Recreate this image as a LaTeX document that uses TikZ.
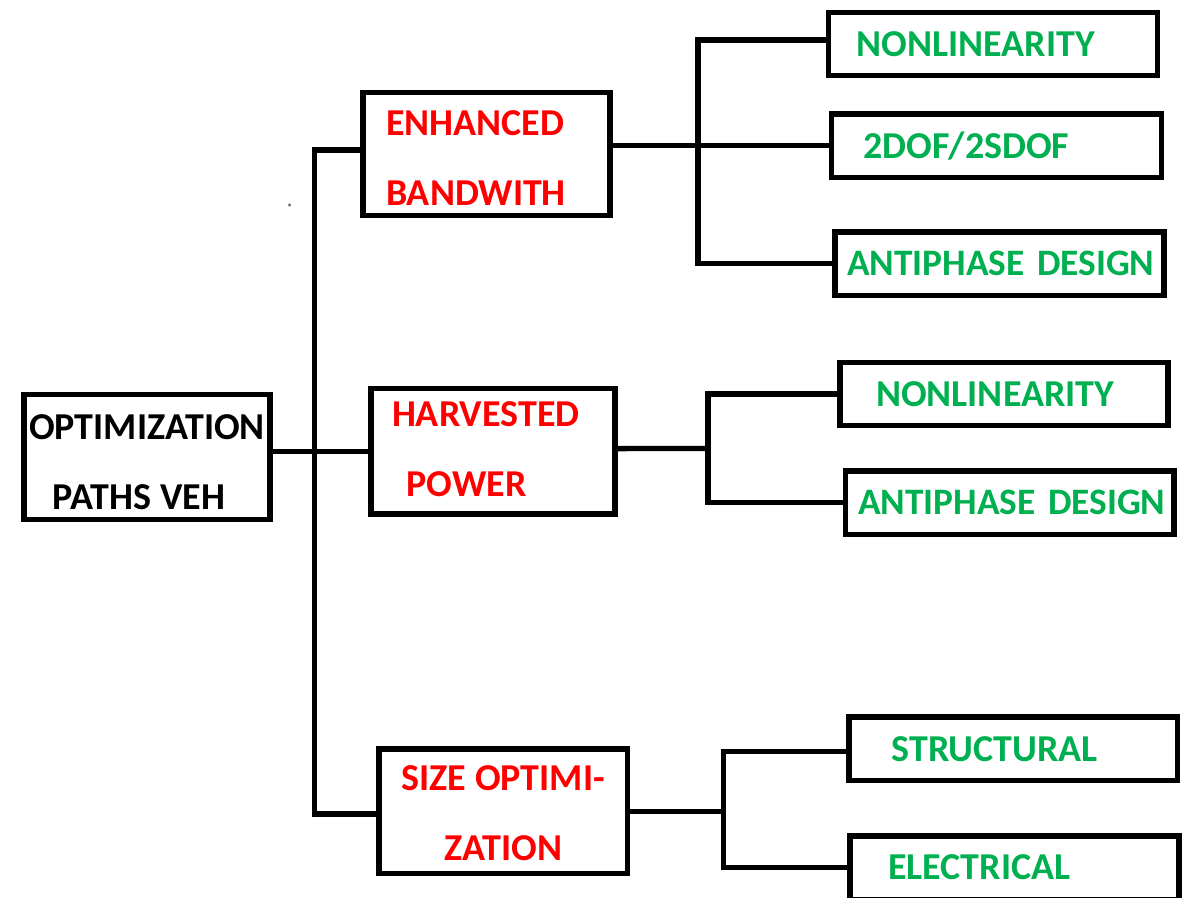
\documentclass[tikz,border=0pt]{standalone}
\usepackage{fontspec}
\setmainfont{Carlito}
\usepackage{xcolor}
\usepackage{tikz}

\definecolor{vehred}{HTML}{FF0000}
\definecolor{vehgreen}{HTML}{00B050}
% pushes a first line down / a last line up inside its box
\newcommand\toppad[1]{\rule{0pt}{#1}}
\newcommand\botpad[1]{\rule[-#1]{0pt}{#1}}

\begin{document}
\begin{tikzpicture}[x=0.75pt, y=-0.75pt,
        veh box/.style={rectangle, draw, line width=4pt, inner ysep=0pt, font=\fontsize{28.5}{52.5}\selectfont\bfseries},
        main block/.style={veh box, text=black, align=center},
        path block/.style={veh box, text=vehred},
        leaf block/.style={veh box, text=vehgreen, align=left, minimum height=47.5pt},
        line/.style={draw, line width=4pt}]
        \useasboundingbox (0,0) rectangle (1186,897);

        \node [main block, minimum width=184.5pt, minimum height=93.75pt] (root) at (147,457) {\toppad{26.5pt}OPTIMIZATION\\PATHS VEH\hspace*{12pt}};

        \node [path block, align=left, inner xsep=17.25pt, text width=150.75pt, minimum height=92.25pt] (enh) at (486.5,154) {\toppad{24.5pt}ENHANCED\\BANDWITH};
        \node [path block, align=left, inner xsep=15.75pt, text width=151.5pt, minimum height=94.1pt] (harv) at (493,451.25) {HARVESTED\\\hspace*{11pt}POWER\botpad{3pt}};
        \node [path block, align=center, minimum width=186.4pt, minimum height=93.4pt] (size) at (503.25,811.25) {\toppad{22pt}SIZE OPTIMI-\\ZATION};

        \node [leaf block, inner xsep=21.3pt, text width=204.3pt] (nl1) at (992.9,44) {NONLINEARITY};
        \node [leaf block, inner xsep=23.7pt, text width=199.9pt] (dof) at (996.6,145.75) {2DOF/2SDOF};
        \node [leaf block, inner xsep=9pt, text width=228.7pt, font=\fontsize{28}{52.5}\selectfont\bfseries] (anti1) at (999.5,263.5) {\mbox{ANTIPHASE DESIGN}};
        \node [leaf block, inner xsep=27pt, text width=192pt] (nl2) at (1004,394) {NONLINEARITY};
        \node [leaf block, inner xsep=9.4pt, text width=227.6pt, font=\fontsize{28}{52.5}\selectfont\bfseries] (anti2) at (1009.75,502.5) {\mbox{ANTIPHASE DESIGN}};
        \node [leaf block, inner xsep=32pt, text width=182.4pt] (struct) at (1013.25,748.75) {STRUCTURAL};
        \node [leaf block, inner xsep=28.5pt, text width=189.7pt] (elec) at (1014.5,867.5) {ELECTRICAL};

        % trunk from the root
        \coordinate (trunk) at (314.8,452);
        \path [line] (root.east |- harv.west) -- (harv.west);
        \path [line] ([yshift=3pt]enh.west) -| (trunk) |- ([yshift=-2pt]size.west);

        % bandwidth branch
        \coordinate (enh fork) at (698,146);
        \path [line] (enh.east |- dof.west) -- (dof.west);
        \path [line] ([yshift=3pt]nl1.west) -| (enh fork) |- (anti1.west);

        % power branch
        \coordinate (harv fork) at (708,448.5);
        \path [line] ([yshift=2pt]harv.east) -- (harv fork);
        \path [line] (nl2.west) -| (harv fork) |- (anti2.west);

        % size branch
        \coordinate (size fork) at (723.5,810);
        \path [line] (size.east) -- (size.east -| size fork);
        \path [line] ([yshift=-2pt]struct.west) -| (size fork) |- (elec.west);

        \fill [black!60] (289.5,205) circle (1.3pt);
    \end{tikzpicture}
\end{document}
